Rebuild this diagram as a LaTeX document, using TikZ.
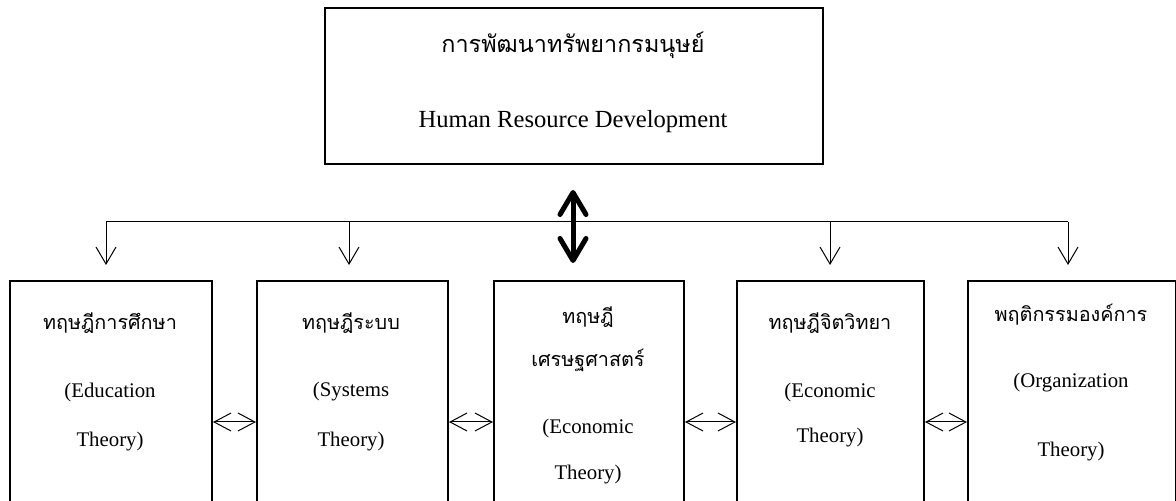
\documentclass[tikz,border=0pt]{standalone}
\usepackage{fontspec}
\setmainfont{Liberation Serif}
\newfontfamily\thaifont[Script=Thai]{Loma}
\usetikzlibrary{arrows.meta}
\tikzset{
  box/.style={draw,line width=1pt,anchor=north west,inner sep=0pt},
  thtop/.style={font=\thaifont\fontsize{11.7}{14}\selectfont},
  entop/.style={font=\fontsize{12.3}{14}\selectfont},
  thbox/.style={font=\thaifont\fontsize{9.9}{12}\selectfont},
  enbox/.style={font=\fontsize{10.4}{12}\selectfont},
  bus/.style={line width=0.5pt},
  down/.style={bus,-{Straight Barb[length=8.5pt,width=10pt]}},
  both/.style={bus,{Straight Barb[length=8.5pt,width=9pt]}-{Straight Barb[length=8.5pt,width=9pt]}},
  big/.style={line width=2.5pt,{Straight Barb[length=11pt,width=13pt,round]}-{Straight Barb[length=11pt,width=13pt,round]}}
}

\begin{document}
\begin{tikzpicture}[x=0.5pt,y=-0.5pt]
\useasboundingbox (0,0) rectangle (1176,501);
\node[box,minimum width=249pt,minimum height=78pt] (hrd) at (324,7) {};
\node[thtop] (hrdth) at (573,45) {การพัฒนาทรัพยากรมนุษย์};
\node[entop] (hrden) at (573,122) {Human Resource Development};

\node[box,minimum width=101pt,minimum height=110.5pt] (edu) at (9,280) {};
\node[box,minimum width=95.5pt,minimum height=110.5pt] (sys) at (256,280) {};
\node[box,minimum width=95pt,minimum height=110.5pt] (eco) at (493,280) {};
\node[box,minimum width=93.5pt,minimum height=110.5pt] (psy) at (736,280) {};
\node[box,minimum width=104pt,minimum height=110.5pt] (org) at (967,280) {};

\node[thbox] (eduth) at (110,323) {ทฤษฎีการศึกษา};
\node[enbox] (eduen) at (110,392) {(Education};
\node[enbox] (eduthy) at (110,442) {Theory)};
\node[thbox] (systh) at (351,323) {ทฤษฎีระบบ};
\node[enbox] (sysen) at (351,392) {(Systems};
\node[enbox] (systhy) at (351,442) {Theory)};
\node[thbox] (ecoth) at (588,317) {ทฤษฎี};
\node[thbox] (ecoth2) at (588,360) {เศรษฐศาสตร์};
\node[enbox] (ecoen) at (588,428) {(Economic};
\node[enbox] (ecothy) at (588,475) {Theory)};
\node[thbox] (psyth) at (830,323) {ทฤษฎีจิตวิทยา};
\node[enbox] (psyen) at (830,392) {(Economic};
\node[enbox] (psythy) at (830,438) {Theory)};
\node[thbox] (orgth) at (1071,315) {พฤติกรรมองค์การ};
\node[enbox] (orgen) at (1071,383) {(Organization};
\node[enbox] (orgthy) at (1071,452) {Theory)};

\coordinate (d1) at (106,222);
\coordinate (d2) at (349,222);
\coordinate (d3) at (830,222);
\coordinate (d4) at (1068,222);
\coordinate (tip) at (0,265);
\draw[bus] (d1) -- (d4);
\foreach \d in {d1,d2,d3,d4} \draw[down] (\d) -- (\d |- tip);

\coordinate (up) at (573,190);
\coordinate (dn) at (573,263);
\draw[big] (up) -- (dn);

\coordinate (row) at (0,422);
\draw[both] (edu.east |- row) -- (sys.west |- row);
\draw[both] (sys.east |- row) -- (eco.west |- row);
\draw[both] (eco.east |- row) -- (psy.west |- row);
\draw[both] (psy.east |- row) -- (org.west |- row);
\end{tikzpicture}
\end{document}
